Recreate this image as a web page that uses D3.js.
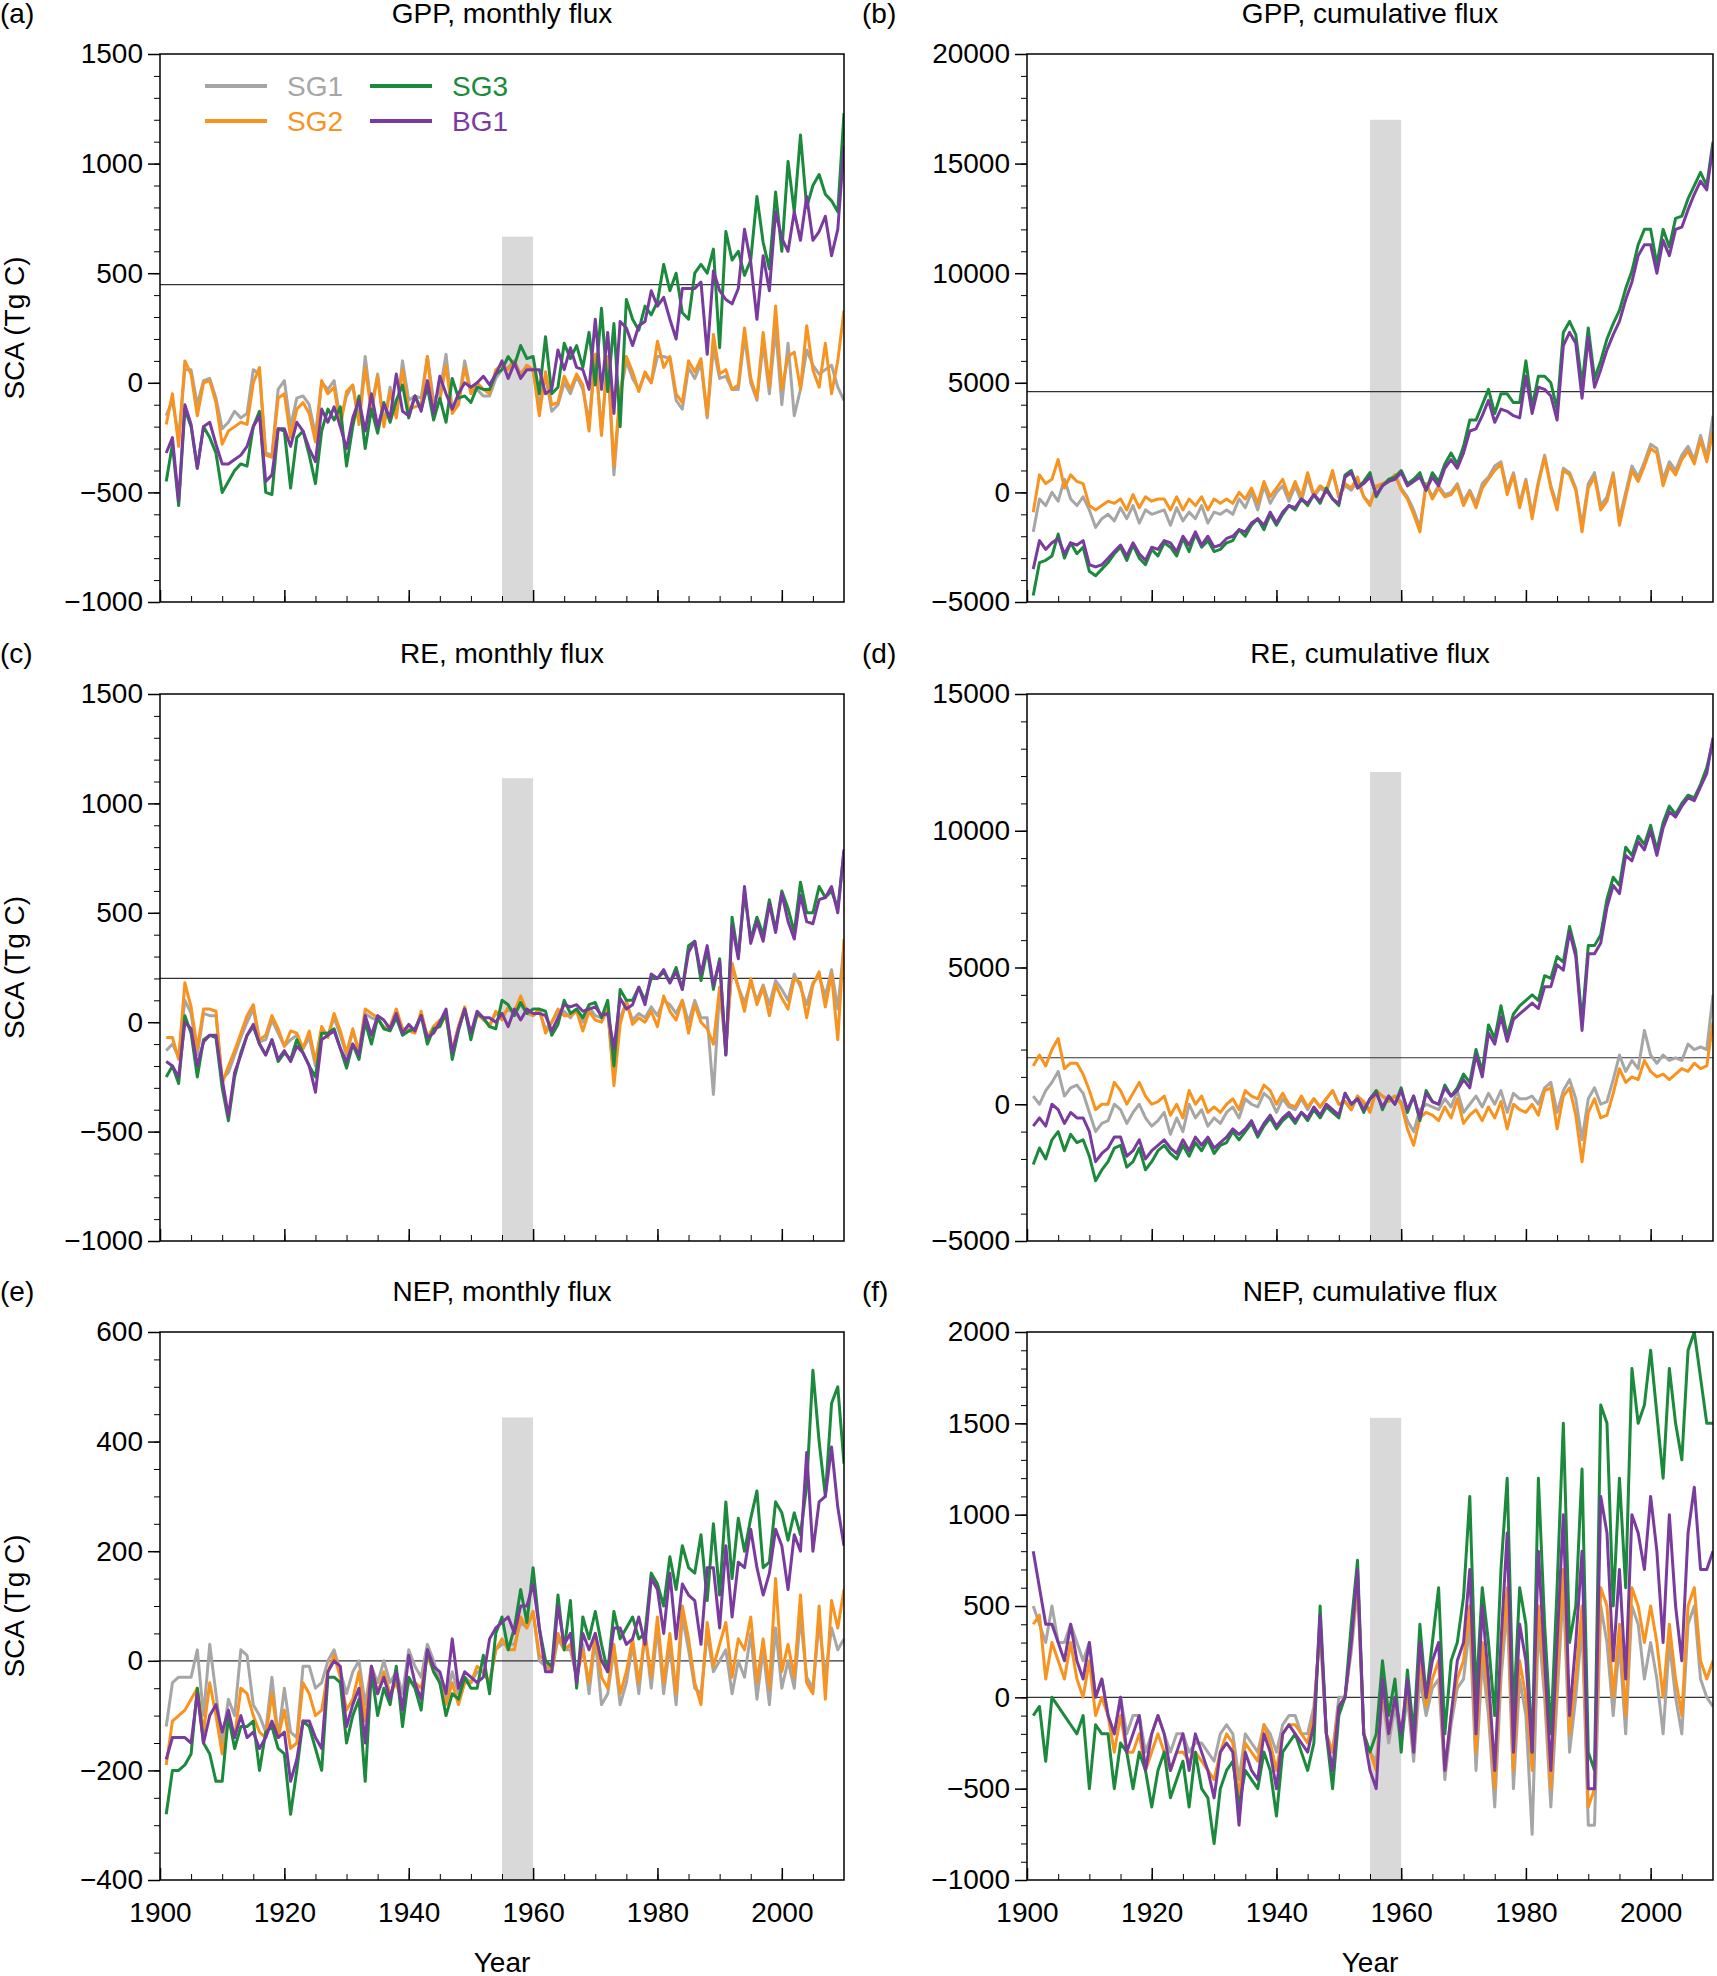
<!DOCTYPE html>
<html><head><meta charset="utf-8">
<script src="https://cdn.jsdelivr.net/npm/d3@7"></script>
<style>body{margin:0;background:#fff}text{font-family:"Liberation Sans",Arial,sans-serif}</style>
</head><body><svg id="c" width="1717" height="1976"></svg>
<script>
const seriesNames=["SG1","SG2","SG3","BG1"];
const colors={SG1:"#a6a6a6",SG2:"#f7931e",SG3:"#1b8a3c",BG1:"#7a3b9e"};
const firstYear=1901;
const panelTitles=["GPP, monthly flux","GPP, cumulative flux","RE, monthly flux","RE, cumulative flux","NEP, monthly flux","NEP, cumulative flux"];
const panelLetters=["(a)","(b)","(c)","(d)","(e)","(f)"];
const yDomains=[[-1000,1500],[-5000,20000],[-1000,1500],[-5000,15000],[-400,600],[-1000,2000]];
const yMajor=[500,5000,500,5000,200,500];
const yMinor=[100,1000,100,1000,50,100];
const refLines=[448,4600,200,1700,0,0];
const shadeTop=[667,17000,1115,12150,444,1530];
const shadeYears=[1955,1960];
const xTicks=[1900,1920,1940,1960,1980,2000];

const aSG1=[-150,-80,-250,60,60,-100,10,20,-70,-210,-180,-130,-160,-140,60,40,-320,-330,-30,10,-200,-70,-60,-100,-240,0,-30,10,-170,-60,-10,-170,120,-110,40,-190,-20,-150,100,-80,-60,-70,120,-80,-40,130,-120,-90,100,-40,-30,-60,-60,20,60,70,100,40,80,50,-100,30,-130,-100,0,-50,30,-30,-180,130,-220,110,-420,-60,100,20,-30,40,0,120,120,110,-80,-120,70,20,90,-160,160,20,30,-30,-30,210,0,-80,180,-50,250,-100,180,-150,-30,150,80,40,60,80,-20,-80];
const aSG2=[-190,-50,-290,100,40,-150,0,10,-90,-280,-220,-200,-180,-190,0,70,-330,-340,-70,-50,-250,-120,-90,-140,-270,10,-50,-20,-200,-40,-10,-190,70,-130,30,-200,-40,-160,60,-120,-110,-100,120,-140,-80,80,-140,-100,70,-50,0,-30,-50,60,80,60,100,30,80,60,-150,50,-100,-90,30,-30,40,-10,-220,130,-240,120,-380,-40,120,50,-40,50,0,190,70,120,-50,-90,100,50,110,-150,220,40,60,-30,-10,250,20,-70,230,-20,350,-30,120,140,-30,260,60,-20,180,-50,100,330];
const aSG3=[-450,-280,-560,-120,-200,-390,-200,-250,-320,-500,-450,-400,-370,-380,-200,-130,-500,-510,-210,-220,-480,-250,-220,-330,-460,-220,-120,-170,-110,-380,-200,-60,-300,-120,-230,-90,-180,-80,-10,-160,-60,-120,-20,-170,-70,-180,20,-70,-60,-90,-20,-30,-30,40,60,120,80,170,110,120,-50,210,-50,-20,180,110,170,70,230,-10,340,-40,270,-200,380,290,240,350,310,370,540,420,500,320,290,500,540,500,610,160,690,560,600,490,560,850,640,520,870,600,1010,780,1130,800,900,950,860,830,780,1230];
const aBG1=[-320,-250,-540,-100,-190,-390,-200,-180,-280,-370,-370,-350,-330,-290,-200,-150,-450,-420,-210,-210,-290,-180,-220,-300,-360,-120,-180,-110,-200,-300,-160,-80,-220,-50,-200,-100,-160,40,-130,-150,-60,-130,10,-140,30,-50,-120,-50,0,-20,0,30,-10,40,100,20,90,20,60,60,60,-50,-30,150,60,160,70,60,-30,290,-30,230,-140,280,250,170,260,280,420,350,390,290,200,430,430,430,460,130,510,420,380,360,430,700,550,290,580,420,780,660,600,780,650,850,650,690,760,580,700,1080];

const bSG1=[-1800,-300,-600,0,-400,600,-300,-600,-200,-800,-1600,-1200,-1000,-1300,-700,-1200,-600,-1400,-800,-1000,-900,-800,-1500,-700,-1300,-900,-1200,-600,-1400,-900,-1000,-800,-1000,-300,-700,0,-800,300,-500,0,300,-400,300,-400,700,-200,200,0,900,-200,300,100,500,-200,-500,200,400,500,800,200,-200,-800,-1600,400,-200,300,-100,0,400,-400,100,-500,400,700,1200,1400,100,900,-500,600,-1000,500,1700,300,-600,1100,900,200,-1500,400,900,-600,-200,900,-1200,0,1200,700,1400,2200,2000,600,1400,1000,1700,2100,1500,2600,1600,3500];
const bSG2=[-900,800,400,600,1500,200,800,500,400,-600,-800,-600,-400,-500,-300,-800,-100,-700,-200,-400,-300,-300,-800,-200,-800,-300,-600,-200,-800,-300,-500,-300,-500,0,-300,200,-500,500,-200,200,600,-200,500,-200,900,-100,300,100,1000,-200,400,200,700,-200,-600,300,400,500,800,100,-300,-1000,-1800,400,-300,200,-200,-100,300,-600,0,-700,200,600,1000,1300,-100,800,-700,500,-1200,400,1600,200,-800,1000,800,100,-1800,200,700,-800,-400,800,-1500,-200,1000,500,1200,2000,1800,300,1200,800,1500,1900,1300,2400,1400,2800];
const bSG3=[-4700,-3200,-3100,-2900,-1900,-3000,-2300,-2800,-2500,-3600,-3800,-3500,-3200,-2800,-2500,-3100,-2400,-3000,-3300,-2600,-2900,-2300,-2500,-2900,-2100,-2700,-1900,-2500,-2200,-2700,-2600,-2300,-2200,-1700,-2000,-1500,-1200,-1700,-1000,-1500,-1000,-600,-800,-300,-600,-100,-500,200,-300,-600,800,1000,200,500,900,-200,300,600,700,1000,400,600,900,100,900,500,1300,1800,1300,2100,3300,3300,4000,4700,3600,4500,4500,4100,4100,6000,3900,5300,5300,5000,3800,7300,7800,7200,4900,7500,5200,6000,7000,7700,8300,9300,10100,11300,12000,12000,10400,12000,11200,12500,12600,13400,14000,14600,14000,16000];
const bBG1=[-3500,-2200,-2600,-2300,-2100,-2800,-2300,-2400,-2200,-3300,-3400,-3300,-3000,-2700,-2400,-2900,-2300,-2800,-3100,-2500,-2600,-2200,-2300,-2700,-2000,-2400,-1800,-2400,-2000,-2500,-2400,-2100,-2000,-1700,-1800,-1400,-1200,-1500,-900,-1400,-900,-600,-700,-300,-500,-100,-400,100,-300,-500,700,900,200,400,700,-100,300,500,600,900,300,500,700,100,700,300,1100,1500,1100,1800,2800,2900,3500,4200,3200,3800,3700,3500,3400,5300,3600,4800,4700,4400,3300,6700,7300,6800,4300,7100,4800,5600,6500,7200,7800,8800,9600,10800,11300,11300,10000,11500,10800,12000,12100,12900,13600,14200,13800,15800];

const cSG1=[-130,-100,-160,100,40,-150,40,30,30,-260,-230,-150,-70,0,60,-90,-80,10,-50,-110,-80,-60,-120,-70,-200,-30,-60,20,-60,-150,-40,-130,40,20,10,-20,-30,40,-30,-30,-40,40,-80,-20,0,30,-130,-20,60,-60,40,10,-10,40,30,60,40,80,40,30,50,-30,0,50,50,20,60,0,70,30,20,50,-250,20,90,10,40,20,70,30,100,80,40,100,0,100,20,20,-330,150,-100,250,160,90,180,100,170,80,190,150,100,220,160,80,180,210,120,240,60,350];
const cSG2=[-70,-70,-170,180,70,-120,60,60,50,-280,-200,-130,-50,30,80,-80,-60,30,-30,-110,-40,-50,-120,-40,-180,-20,-70,40,-40,-140,-30,-140,60,40,20,-30,-20,60,-30,-40,-50,50,-70,-20,10,20,-130,-20,70,-60,30,20,-20,50,10,70,50,120,50,30,60,-50,0,60,30,30,50,-40,50,10,0,60,-290,-10,100,-10,20,0,50,-20,120,50,10,100,-50,80,0,-30,-100,160,-130,270,160,50,200,80,160,30,170,110,60,200,180,20,170,230,70,220,-80,380];
const cSG3=[-250,-200,-280,30,-50,-250,-80,-60,-70,-300,-450,-250,-140,-60,-20,-100,-150,-80,-180,-140,-170,-80,-140,-200,-250,-50,-50,-30,-120,-210,-100,-170,0,-100,20,-30,-40,20,-60,-40,-30,30,-100,-30,-20,40,-170,-40,60,-80,40,20,-20,-30,100,80,30,90,40,60,60,50,-60,-10,100,40,60,20,80,90,20,100,-200,150,100,100,160,100,200,200,230,180,250,150,350,370,190,330,150,290,-150,480,300,590,380,480,400,560,420,600,520,410,640,500,500,620,570,600,520,780];
const cBG1=[-180,-200,-250,0,-30,-200,-90,-60,-60,-260,-430,-230,-150,-60,-10,-100,-150,-80,-170,-130,-180,-110,-140,-200,-320,-80,-60,-40,-120,-180,-100,-150,30,-60,30,10,-30,40,-50,-10,-40,30,-70,-50,0,60,-140,-30,60,-50,50,20,20,0,40,-20,60,10,60,40,40,30,-40,20,80,70,80,50,60,70,30,40,-120,110,60,80,160,80,220,200,240,180,230,150,320,370,220,350,170,280,-150,440,290,620,360,460,370,540,410,590,460,380,580,460,450,560,570,620,500,790];

const dSG1=[300,0,500,800,1200,300,600,700,400,-300,-1000,-700,-600,0,-200,-700,-300,0,-500,-800,-600,-300,-1100,-500,-1000,0,-500,-200,-800,-500,-700,-300,-100,-500,200,0,-100,400,200,-300,200,-100,-200,200,-200,200,-100,200,500,0,100,-200,300,0,-200,500,300,200,300,100,-600,-1000,-200,0,-100,-200,200,-100,500,-300,0,300,-100,400,0,500,-300,400,200,200,300,0,600,800,-300,500,900,200,-1300,200,600,0,100,900,1800,1200,1600,1300,2700,1800,1500,1800,1600,1700,1600,2200,2000,2100,2000,4000];
const dSG2=[1400,1800,1400,2000,2400,1300,1500,1500,1100,500,-200,0,0,800,500,0,400,800,300,0,100,300,-400,0,-500,500,0,300,-300,-100,-300,0,200,-200,500,300,200,700,500,0,400,0,-100,300,-100,200,-100,200,500,0,100,-200,300,100,-300,500,300,100,300,0,-900,-1500,-500,-300,-400,-600,-100,-500,200,-700,-400,-200,-600,-100,-500,100,-900,0,-200,-300,0,-400,500,600,-900,300,600,-400,-2100,-300,200,-500,-400,400,1300,800,1000,900,1600,1200,1000,1100,900,1100,1300,1200,1500,1300,1400,3000];
const dSG3=[-2200,-1600,-2000,-1300,-1000,-1700,-1100,-1400,-1300,-1900,-2800,-2400,-2100,-1600,-1500,-2300,-2100,-1600,-2400,-2100,-1700,-1500,-1800,-2000,-1500,-1900,-1400,-1700,-1300,-1800,-1500,-1400,-1000,-1300,-1000,-700,-1200,-800,-500,-900,-600,-400,-700,-300,-600,-200,-500,-100,-300,-500,400,0,200,-300,200,500,-200,300,0,600,-300,300,-600,500,100,0,700,300,600,1100,800,2000,1200,2900,2400,3600,2500,3300,3600,3800,4000,3800,4700,4600,5400,5200,6500,5600,3000,5800,5800,6200,7500,8300,8000,9400,9100,9800,9500,10200,9300,10300,10900,10600,11000,11300,11200,11700,12300,13300];
const dBG1=[-800,-500,-800,0,-200,-700,-300,-500,-500,-1000,-2100,-1800,-1600,-1200,-1200,-1900,-1700,-1300,-2000,-1700,-1500,-1300,-1600,-1800,-1300,-1700,-1200,-1500,-1200,-1600,-1400,-1200,-900,-1100,-900,-600,-1100,-700,-400,-800,-500,-300,-600,-300,-500,-100,-400,0,-200,-400,400,0,200,-200,200,400,-100,300,0,500,-200,300,-500,400,100,0,600,300,500,900,600,1800,1000,2600,2200,3200,2300,3100,3300,3500,3700,3500,4300,4300,5100,4900,6300,5400,2700,5500,5500,5900,7200,8000,7700,9100,8900,9600,9300,10000,9100,10100,10700,10500,10900,11200,11100,11600,12100,13400];

const eSG1=[-120,-40,-30,-30,-30,20,-100,30,-60,-150,-70,-100,20,10,-80,-100,-130,-30,-140,-50,-130,-140,-10,-10,-50,-40,0,20,-20,-60,-20,0,-80,-10,-40,0,-40,-20,-60,20,-10,-30,30,0,-40,-70,-20,-60,-30,-40,-20,-20,-40,20,30,30,30,70,60,90,0,-10,-20,40,20,20,-30,30,-60,40,-80,-60,20,-80,-40,30,-60,50,-50,60,-60,30,-80,80,20,-50,-60,50,-20,0,20,-60,0,-30,50,-70,20,-80,60,-50,0,-50,80,-30,-50,70,-30,60,20,40];
const eSG2=[-190,-110,-100,-90,-70,-50,-130,-40,-100,-170,-110,-140,-50,-60,-100,-130,-140,-60,-140,-90,-160,-150,-40,-60,-100,-90,-20,10,-30,-90,-70,-20,-110,-10,-60,-20,-60,-40,-80,-40,-40,-50,10,-20,-40,-80,-40,-80,-40,-40,-10,-20,-40,20,40,20,20,80,60,90,10,0,-20,50,20,30,-30,20,-40,50,-30,-50,30,-60,-20,40,-40,50,-30,80,-40,50,-60,100,40,-40,-80,70,-10,30,70,-30,40,20,80,-40,40,-50,150,-20,30,-30,120,-40,-60,100,-70,110,60,130];
const eSG3=[-280,-200,-200,-190,-170,-50,-150,-170,-220,-220,-100,-160,-120,-120,-110,-200,-130,-120,-160,-170,-280,-200,-110,-120,-160,-200,-30,-30,-40,-150,-100,-70,-220,-20,-100,-50,-80,-10,-120,-30,-50,-90,20,-20,-40,-100,-60,-70,-30,-50,-50,10,-60,50,80,20,60,130,70,170,60,0,-10,120,20,110,-50,80,40,90,30,-20,90,40,60,80,40,50,160,140,100,190,130,210,170,160,230,110,250,120,290,150,260,200,260,310,170,180,290,270,220,270,230,320,530,400,300,470,500,360];
const eBG1=[-180,-140,-140,-140,-150,-60,-150,-100,-80,-130,-90,-140,-100,-140,-130,-160,-140,-110,-140,-130,-220,-180,-110,-110,-140,-160,-20,0,-10,-120,-80,-50,-150,-10,-60,-30,-70,-20,-90,10,-40,-70,20,-10,-20,-60,40,-50,-20,-30,-40,-30,40,60,70,80,50,100,100,140,60,-20,-20,100,30,50,-40,50,20,50,0,-20,60,60,30,40,80,30,150,130,50,160,40,140,120,110,30,170,170,60,210,80,180,170,240,170,120,160,240,210,130,230,200,380,200,290,300,390,280,210];

const fSG1=[500,400,300,500,300,300,400,300,200,300,0,100,-100,-200,0,-200,-100,-100,-300,-200,-100,-200,-300,-200,-200,-300,-250,-250,-300,-350,-200,-150,-200,-450,-200,-250,-300,-150,-200,-300,-150,-100,-100,-200,-200,-50,350,-200,-300,0,0,250,600,-200,-300,-350,0,-250,-50,-250,0,-350,100,-100,50,100,-450,-150,50,100,400,-400,200,-100,-600,100,500,-500,100,-100,-750,400,0,-600,0,600,-300,0,400,-700,-700,500,300,-100,300,-200,500,400,100,300,100,-200,300,0,-200,400,500,100,0,-50];
const fSG2=[400,450,100,300,200,100,300,100,0,200,-100,0,-100,-300,-100,-300,-300,-200,-400,-300,-200,-300,-400,-300,-300,-350,-300,-350,-400,-450,-300,-200,-250,-550,-250,-300,-350,-150,-250,-400,-200,-150,-150,-200,-250,-100,400,-200,-300,-50,0,300,650,-200,-300,-400,50,-200,0,-200,50,-300,200,-50,100,200,-400,-100,100,200,500,-300,300,0,-500,200,600,-400,200,0,-400,500,100,-500,100,700,-200,100,500,-600,-500,600,500,0,400,-100,600,500,300,500,300,0,400,100,-100,500,600,200,100,200];
const fSG3=[-100,-50,-350,0,-50,-100,-150,-200,-100,-500,-150,-200,-200,-500,-250,-300,-500,-300,-400,-600,-400,-300,-550,-450,-350,-600,-300,-500,-550,-800,-500,-400,-350,-600,-400,-450,-500,-300,-400,-650,-300,-250,-200,-300,-400,-250,500,-200,-500,-100,0,400,750,-200,-300,-200,200,-100,100,-300,150,-200,400,0,300,600,-200,200,300,550,1100,0,600,300,-100,700,1200,-100,600,400,-300,1200,400,-200,600,1500,300,500,1250,-300,-400,1600,1500,500,1200,600,1800,1500,1600,1900,1550,1200,1800,1500,1300,1900,2000,1750,1500,1500];
const fBG1=[800,600,400,400,300,200,400,200,100,300,0,100,-100,-200,0,-300,-200,-100,-400,-200,-100,-200,-400,-300,-200,-400,-200,-300,-400,-550,-300,-250,-300,-700,-300,-400,-450,-200,-300,-500,-200,-150,-200,-250,-300,-150,450,-200,-400,-50,0,300,700,-200,-400,-500,100,-200,0,-200,100,-300,300,0,200,300,-400,-100,200,300,700,-200,500,100,-400,300,900,-300,400,200,-300,800,200,-400,300,1000,-100,300,800,-500,-500,1100,900,200,700,100,1000,900,700,1100,800,300,1000,500,200,900,1150,700,700,800];

const panelData=[
 {SG1:aSG1,SG2:aSG2,SG3:aSG3,BG1:aBG1},
 {SG1:bSG1,SG2:bSG2,SG3:bSG3,BG1:bBG1},
 {SG1:cSG1,SG2:cSG2,SG3:cSG3,BG1:cBG1},
 {SG1:dSG1,SG2:dSG2,SG3:dSG3,BG1:dBG1},
 {SG1:eSG1,SG2:eSG2,SG3:eSG3,BG1:eBG1},
 {SG1:fSG1,SG2:fSG2,SG3:fSG3,BG1:fBG1}];

const svg=d3.select("#c");
const cols=[[160,844],[1027,1713]];
const rows=[[54,602],[694,1241],[1332,1880]];
const fmt=v=>v<0?"\u2212"+Math.abs(v):String(v);
const drawOrder=["SG1","SG2","SG3","BG1"];
const FS=28;

panelData.forEach((pd,p)=>{
  const c=cols[p%2], r=rows[Math.floor(p/2)];
  const x=d3.scaleLinear().domain([1900,2010]).range(c);
  const y=d3.scaleLinear().domain(yDomains[p]).range([r[1],r[0]]);
  const g=svg.append("g");
  const clipId="clip"+p;
  g.append("clipPath").attr("id",clipId).append("rect").attr("x",c[0]).attr("y",r[0]).attr("width",c[1]-c[0]).attr("height",r[1]-r[0]);
  g.append("rect").attr("x",x(shadeYears[0])).attr("width",x(shadeYears[1])-x(shadeYears[0]))
   .attr("y",y(shadeTop[p])).attr("height",y(yDomains[p][0])-y(shadeTop[p])).attr("fill","#d9d9d9");
  g.append("line").attr("x1",c[0]).attr("x2",c[1]).attr("y1",y(refLines[p])).attr("y2",y(refLines[p])).attr("stroke","#333").attr("stroke-width",1.2);
  const line=d3.line().x((d,i)=>x(firstYear+i)).y(d=>y(d));
  const lg=g.append("g").attr("clip-path","url(#"+clipId+")");
  drawOrder.forEach(s=>{
    lg.append("path").datum(pd[s]).attr("d",line).attr("fill","none").attr("stroke",colors[s]).attr("stroke-width",3).attr("stroke-linejoin","round");
  });
  g.append("rect").attr("x",c[0]).attr("y",r[0]).attr("width",c[1]-c[0]).attr("height",r[1]-r[0]).attr("fill","none").attr("stroke","#000").attr("stroke-width",1.5);
  const ya=d3.axisLeft(y).tickValues(d3.range(yDomains[p][0],yDomains[p][1]+1,yMajor[p])).tickSize(12).tickFormat(fmt);
  const yg=g.append("g").attr("transform",`translate(${c[0]},0)`).call(ya);
  yg.select(".domain").remove();
  yg.selectAll("text").attr("font-size",FS).attr("fill","#000").attr("dx",-2);
  yg.selectAll("line").attr("stroke-width",1.5);
  const ym=d3.axisLeft(y).tickValues(d3.range(yDomains[p][0],yDomains[p][1]+1,yMinor[p])).tickSize(6).tickFormat("");
  const ymg=g.append("g").attr("transform",`translate(${c[0]},0)`).call(ym); ymg.select(".domain").remove();
  const bottom=p>=4;
  const xa=d3.axisBottom(x).tickValues(xTicks).tickSize(-12).tickPadding(22).tickFormat(bottom?d3.format("d"):"");
  const xg=g.append("g").attr("transform",`translate(0,${r[1]})`).call(xa);
  xg.select(".domain").remove();
  xg.selectAll("text").attr("font-size",FS).attr("fill","#000");
  xg.selectAll("line").attr("stroke-width",1.5);
  const xm=d3.axisBottom(x).tickValues(d3.range(1905,2010,5)).tickSize(-6).tickFormat("");
  const xmg=g.append("g").attr("transform",`translate(0,${r[1]})`).call(xm); xmg.select(".domain").remove();
  svg.append("text").attr("x",(c[0]+c[1])/2).attr("y",r[0]-31).attr("text-anchor","middle").attr("font-size",FS).text(panelTitles[p]);
  svg.append("text").attr("x",p%2?862:0).attr("y",r[0]-31).attr("font-size",FS).text(panelLetters[p]);
  if(p%2===0){
    svg.append("text").attr("transform",`translate(24,${(r[0]+r[1])/2}) rotate(-90)`).attr("text-anchor","middle").attr("font-size",FS).text("SCA (Tg C)");
  }
  if(bottom){
    svg.append("text").attr("x",(c[0]+c[1])/2).attr("y",1972).attr("text-anchor","middle").attr("font-size",FS).text("Year");
  }
});
const legPos={SG1:[205,86],SG2:[205,121],SG3:[370,86],BG1:[370,121]};
seriesNames.forEach(s=>{
  const [lx,ly]=legPos[s];
  svg.append("line").attr("x1",lx).attr("x2",lx+62).attr("y1",ly).attr("y2",ly).attr("stroke",colors[s]).attr("stroke-width",4);
  svg.append("text").attr("x",lx+82).attr("y",ly+10).attr("font-size",FS).attr("fill",colors[s]).text(s);
});
</script></body></html>
